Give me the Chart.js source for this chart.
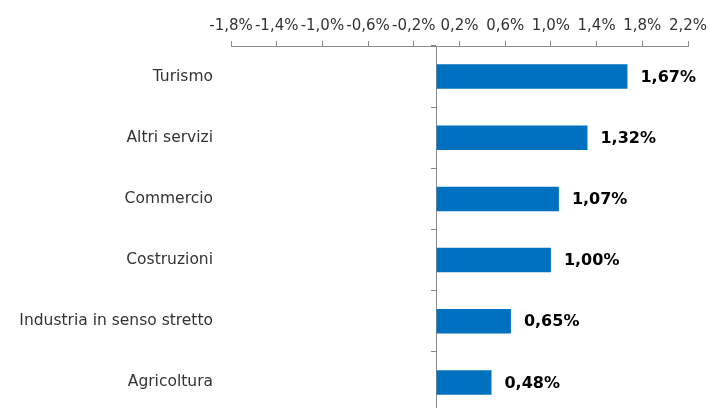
<!DOCTYPE html>
<html>
<head>
<meta charset="utf-8">
<script src="https://cdn.jsdelivr.net/npm/chart.js@4/dist/chart.umd.min.js"></script>
<style>
  html, body { margin: 0; padding: 0; background: #fff; overflow: hidden; }
  #wrap { width: 710px; height: 408px; overflow: hidden; }
</style>
</head>
<body>
<div id="wrap"><canvas id="myChart" width="710" height="413"></canvas></div>
<script>
// Categories (top to bottom)
const sectors = ['Turismo', 'Altri servizi', 'Commercio', 'Costruzioni', 'Industria in senso stretto', 'Agricoltura'];
// Percent change per sector
const changes = [1.67, 1.32, 1.07, 1.00, 0.65, 0.48];
// Tick values on the top axis
const tickValues = [-1.8, -1.4, -1.0, -0.6, -0.2, 0.2, 0.6, 1.0, 1.4, 1.8, 2.2];

const axisGray = '#8a8a8a';
const pct = (v, d) => v.toFixed(d).replace('.', ',') + '%';

Chart.defaults.font.family = "'DejaVu Sans', Verdana, sans-serif";
Chart.defaults.font.size = 15;
Chart.defaults.color = '#333';

// draws the value next to each bar
const valueLabels = {
  id: 'valueLabels',
  afterDatasetsDraw(chart) {
    const ctx = chart.ctx;
    const meta = chart.getDatasetMeta(0);
    ctx.save();
    ctx.font = "bold 16px 'DejaVu Sans', Verdana, sans-serif";
    ctx.fillStyle = '#000';
    ctx.textAlign = 'left';
    ctx.textBaseline = 'middle';
    meta.data.forEach((bar, i) => {
      ctx.fillText(pct(changes[i], 2), bar.x + 13, bar.y + 1);
    });
    ctx.restore();
  }
};

new Chart(document.getElementById('myChart'), {
  type: 'bar',
  data: {
    labels: sectors,
    datasets: [{
      data: changes,
      backgroundColor: '#0070C0',
      borderWidth: 0,
      categoryPercentage: 1,
      barPercentage: 0.4
    }]
  },
  options: {
    indexAxis: 'y',
    responsive: false,
    animation: false,
    layout: { padding: { top: 11, right: 22, bottom: 0, left: 0 } },
    plugins: {
      legend: { display: false },
      tooltip: { enabled: false }
    },
    scales: {
      x: {
        position: 'top',
        min: -1.8,
        max: 2.2,
        afterBuildTicks: (scale) => {
          scale.ticks = tickValues.map(v => ({ value: v }));
        },
        afterFit: (scale) => {
          scale.paddingLeft = 0;
          scale.paddingRight = 0;
        },
        ticks: {
          autoSkip: false,
          maxRotation: 0,
          minRotation: 0,
          padding: 6,
          callback: (v) => pct(v, 1)
        },
        grid: {
          drawOnChartArea: false,
          drawTicks: true,
          tickLength: 5,
          color: axisGray
        },
        border: { display: true, color: axisGray }
      },
      y: {
        position: 'left',
        afterFit: (scale) => {
          scale.width = 231;
          scale.paddingTop = 0;
          scale.paddingBottom = 0;
        },
        ticks: { padding: 18, color: '#333', font: { size: 15.5 } },
        grid: { display: false, drawTicks: false },
        border: { display: false }
      },
      // vertical axis line at zero with small category ticks
      y2: {
        type: 'category',
        position: { x: 0 },
        ticks: { display: false },
        grid: {
          drawOnChartArea: false,
          drawTicks: true,
          tickLength: 5,
          offset: true,
          color: axisGray
        },
        border: { display: true, color: axisGray }
      }
    }
  },
  plugins: [valueLabels]
});
</script>
</body>
</html>
